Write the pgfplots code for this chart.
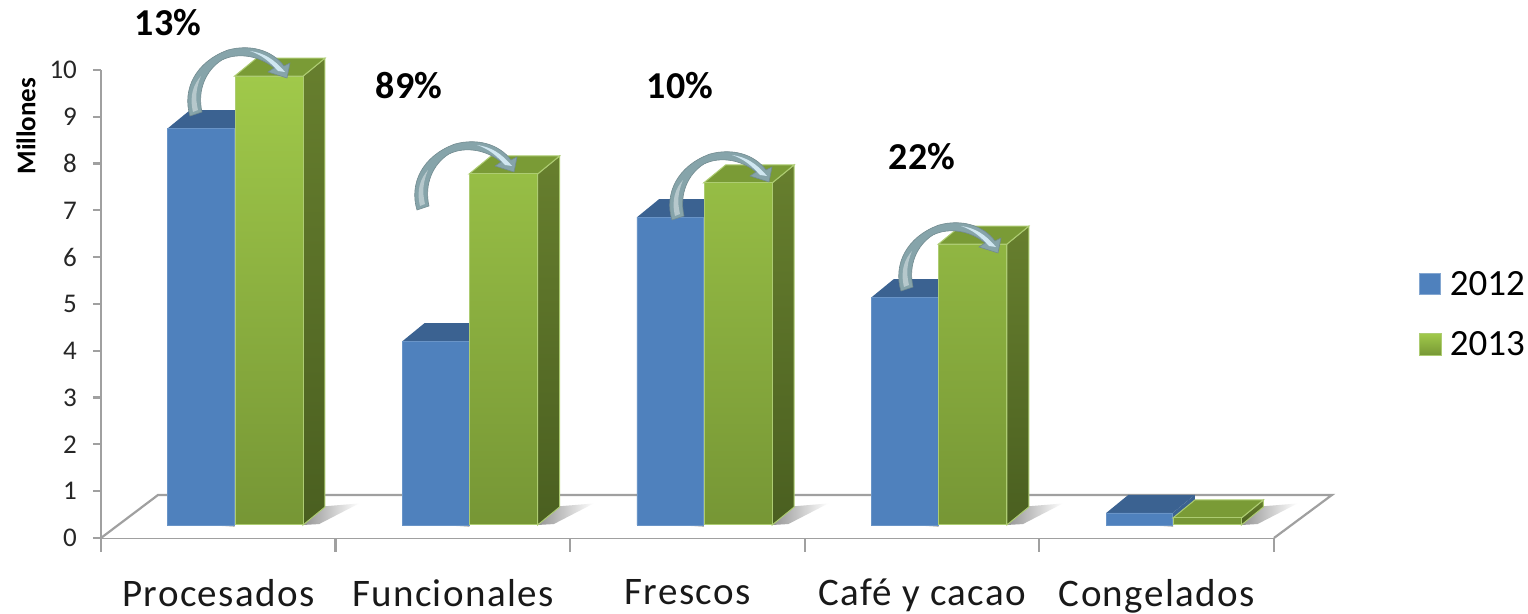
\documentclass[border=0pt]{standalone}
\usepackage{fontspec}
\setmainfont{Carlito}
\usepackage{pgfplots}
\usepackage{pgfplotstable}
\pgfplotsset{compat=1.18}

\definecolor{bluefront}{HTML}{4F81BD}
\definecolor{bluedark}{HTML}{3B6291}
\definecolor{greentop}{HTML}{A0C94A}
\definecolor{greenbot}{HTML}{769635}
\definecolor{greenlid}{HTML}{7A9B36}
\definecolor{greensidea}{HTML}{677F2E}
\definecolor{greensideb}{HTML}{4A5F20}
\definecolor{greenedge}{HTML}{ADCC72}
\definecolor{axisgray}{HTML}{A0A0A0}
\definecolor{arrowcol}{HTML}{86A4AA}

% heights in millions, measured from the base of the bars
\pgfplotstableread{
x    y2012 y2013
0.5  8.48  9.59
1.5  3.93  7.50
2.5  6.58  7.31
3.5  4.87  6.00
4.5  0.26  0.15
}\ventas

\newcommand{\sombra}[1]{%
  \pgfmathsetmacro\sa{#1+0.361}\pgfmathsetmacro\sb{#1+0.455}\pgfmathsetmacro\sc{#1+0.60}\pgfmathsetmacro\sd{#1+0.43}%
  \addplot[draw=none,left color=black!42,right color=white,forget plot]
    coordinates {(\sa,0) (\sb,0.40) (\sc,0.46) (\sd,0.02)} -- cycle;
  \pgfmathsetmacro\se{#1-0.05}\pgfmathsetmacro\sf{#1+0.07}%
  \addplot[draw=none,left color=white,right color=black!30,forget plot]
    coordinates {(\se,0) (\sf,0) (\sf,-0.04)} -- cycle;
}
\newcommand{\carasazul}[2]{%
  \pgfmathsetmacro\xa{#1-0.2144}\pgfmathsetmacro\xb{#1-0.1206}\pgfmathsetmacro\xc{#1+0.069}\pgfmathsetmacro\xd{#1+0.1628}%
  \pgfmathsetmacro\yt{#2+0.385}%
  \addplot[fill=bluedark,draw=none,forget plot]
    coordinates {(\xc,0) (\xd,0.385) (\xd,\yt) (\xc,#2)} -- cycle;
  \addplot[fill=bluedark,draw=none,forget plot]
    coordinates {(\xa,#2) (\xb,\yt) (\xd,\yt) (\xc,#2)} -- cycle;
}
\newcommand{\carasverde}[2]{%
  \pgfmathsetmacro\xa{#1+0.069}\pgfmathsetmacro\xb{#1+0.1628}\pgfmathsetmacro\xc{#1+0.361}\pgfmathsetmacro\xd{#1+0.4548}%
  \pgfmathsetmacro\yt{#2+0.385}%
  \addplot[top color=greensidea,bottom color=greensideb,draw=greenedge,line width=0.5pt,forget plot]
    coordinates {(\xc,0) (\xd,0.385) (\xd,\yt) (\xc,#2)} -- cycle;
  \addplot[fill=greenlid,draw=greenedge,line width=0.5pt,forget plot]
    coordinates {(\xa,#2) (\xb,\yt) (\xd,\yt) (\xc,#2)} -- cycle;
}
\newcommand{\flecha}[2]{%
  \begin{scope}[shift={(#1,#2)}]
    \fill[arrowcol,draw=arrowcol!85!black,line width=0.3pt]
      (190,116) .. controls (182,90) and (195,62) .. (228,50)
      .. controls (250,44) and (272,50) .. (284,66)
      -- (290,63) -- (287,78) -- (268,72) -- (274,68)
      .. controls (260,56) and (238,52) .. (222,60)
      .. controls (206,70) and (197,90) .. (202,112) -- cycle;
    \fill[arrowcol!60!white]
      (193,112) .. controls (189,95) and (194,84) .. (201,76)
      .. controls (196,88) and (195,98) .. (198,110) -- cycle;
    \fill[cyan!15!white!85!arrowcol]
      (250,51) .. controls (264,53) and (274,59) .. (285,72)
      -- (278,71) .. controls (270,62) and (262,55) .. (250,51) -- cycle;
  \end{scope}
}

\begin{document}
\begin{tikzpicture}
\useasboundingbox (0,0) rectangle (764pt,307pt);

% ejes y piso
\begin{axis}[
    at={(50.5pt,38pt)}, anchor=south west,
    scale only axis, width=586.5pt, height=234pt,
    xmin=0, xmax=5, ymin=0, ymax=10,
    clip=false,
    axis x line*=bottom, axis y line*=left,
    axis line style={axisgray,line width=1.1pt,-},
    tick align=outside,
    major tick length=4pt,
    ytick={0,...,10},
    ytick style={axisgray,line width=1.1pt},
    xtick={0.5,1.5,2.5,3.5,4.5},
    xticklabels={Procesados,Funcionales,Frescos,Café y cacao,Congelados},
    xtick style={draw=none},
    extra x ticks={0,1,2,3,4,5},
    extra x tick labels={},
    extra x tick style={major tick length=7pt,xtick style={draw=axisgray,line width=1.1pt}},
    /pgf/number format/assume math mode=true,
    yticklabel style={font=\fontsize{13.5}{15}\selectfont,text=black!85,xshift=-4.5pt},
    xticklabel style={font=\fontsize{19.5}{21}\selectfont\addfontfeature{LetterSpace=3.5},text=black!90,yshift=-13pt},
    ylabel={Millones},
    ylabel style={at={(rel axis cs:-0.064,0.88)},anchor=center,rotate=0,
      font=\fontsize{13.5}{14}\selectfont\bfseries},
]
\addplot[draw=axisgray,line width=1.1pt,fill=white]
  coordinates {(0,0) (0.243,0.919) (5.247,0.919) (5,0)};
\end{axis}

% barras, con el cero en la base de las barras
\begin{axis}[
    at={(50.5pt,38pt)}, anchor=south west,
    scale only axis, width=586.5pt, height=234pt,
    xmin=0, xmax=5, ymin=-0.2778, ymax=9.7222,
    clip=false,
    axis lines=none,
    legend style={at={(1.118,0.588)},anchor=north west,draw=none,fill=none,
      font=\fontsize{18.5}{20}\selectfont,row sep=12.5pt,
      /tikz/every odd column/.append style={column sep=2pt}},
]
\pgfplotsforeachungrouped \i in {0,...,4} {
  \pgfmathsetmacro\cc{\i+0.5}
  \sombra{\cc}
}
\pgfplotsforeachungrouped \i in {0,...,4} {
  \pgfplotstablegetelem{\i}{y2012}\of\ventas
  \let\vv\pgfplotsretval
  \pgfmathsetmacro\cc{\i+0.5}
  \carasazul{\cc}{\vv}
}
\addplot[ybar,bar width=33.25pt,bar shift=-8.65pt,fill=bluefront,draw=bluefront!85!white,line width=0.3pt,
  legend image code/.code={\fill[bluefront,draw=bluefront!70!white] (0pt,-5pt) rectangle (10.5pt,5.5pt);}]
  table[x=x,y=y2012] {\ventas};
\addlegendentry{2012}
\pgfplotsforeachungrouped \i in {0,...,4} {
  \pgfplotstablegetelem{\i}{y2013}\of\ventas
  \let\vv\pgfplotsretval
  \pgfmathsetmacro\cc{\i+0.5}
  \carasverde{\cc}{\vv}
}
\addplot[ybar,bar width=34pt,bar shift=25.35pt,top color=greentop,bottom color=greenbot,draw=greenedge,line width=0.5pt,
  legend image code/.code={\shade[top color=greentop,bottom color=greenbot,draw=greenedge] (0pt,-5.5pt) rectangle (11pt,5.5pt);}]
  table[x=x,y=y2013] {\ventas};
\addlegendentry{2013}
\end{axis}

% flechas y porcentajes, en pixeles de la imagen
\begin{scope}[x=0.5pt,y=-0.5pt,shift={(0pt,307pt)}]
  \flecha{0}{0}
  \flecha{227}{94}
  \flecha{482}{104}
  \flecha{711}{175}
  \path[font=\fontsize{19}{21}\selectfont\bfseries,text=black]
    (168,23) node {13\%}
    (409,86) node {89\%}
    (680,86) node {10\%}
    (922,157) node {22\%};
\end{scope}
\end{tikzpicture}
\end{document}
